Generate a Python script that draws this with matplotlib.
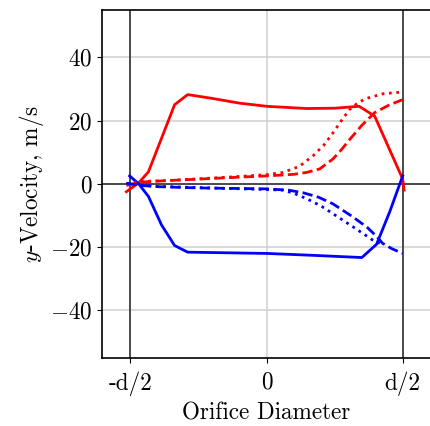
import matplotlib
matplotlib.use("Agg")
import matplotlib.pyplot as plt

plt.rcParams['font.family'] = 'serif'
plt.rcParams['font.serif'] = ['cmr10', 'DejaVu Serif']
plt.rcParams['mathtext.fontset'] = 'cm'
plt.rcParams['axes.formatter.use_mathtext'] = True
plt.rcParams['font.size'] = 16.7

# positions in units of orifice diameter d
x_red_solid = [-0.515, -0.47, -0.434, -0.338, -0.29, -0.2, -0.1, 0.0, 0.147, 0.25, 0.34, 0.397, 0.5, 0.505]
y_red_solid = [-2.5, 0.3, 3.8, 25.0, 28.2, 27.0, 25.5, 24.5, 23.8, 23.9, 24.5, 21.4, 1.5, -2.0]

x_blue_solid = [-0.503, -0.47, -0.434, -0.386, -0.338, -0.29, 0.0, 0.17, 0.35, 0.404, 0.452, 0.5]
y_blue_solid = [2.5, 0.0, -4.0, -13.0, -19.5, -21.6, -22.0, -22.6, -23.3, -19.1, -8.9, 2.5]

x_red_dot = [-0.515, -0.45, -0.37, -0.246, -0.125, 0.0, 0.06, 0.12, 0.17, 0.21, 0.243, 0.275, 0.305, 0.335, 0.367, 0.43, 0.5]
y_red_dot = [0.0, 0.8, 1.0, 1.6, 2.2, 2.9, 3.6, 5.5, 8.8, 12.2, 16.0, 20.0, 23.5, 25.6, 27.0, 28.5, 29.0]

x_red_dash = [-0.515, -0.45, -0.37, -0.246, -0.125, 0.0, 0.1, 0.147, 0.195, 0.243, 0.275, 0.305, 0.35, 0.397, 0.452, 0.5]
y_red_dash = [-0.5, 0.6, 1.0, 1.5, 2.0, 2.5, 3.0, 3.6, 4.7, 7.8, 10.8, 14.0, 18.5, 22.5, 25.0, 26.6]

x_blue_dot = [-0.515, -0.45, -0.4, -0.25, 0.0, 0.06, 0.1, 0.147, 0.2, 0.243, 0.316, 0.39, 0.42]
y_blue_dot = [0.0, -0.5, -0.8, -1.2, -1.8, -2.0, -3.0, -4.7, -7.0, -9.4, -13.5, -17.8, -19.0]

x_blue_dash = [-0.515, -0.45, -0.4, -0.25, 0.0, 0.08, 0.133, 0.19, 0.243, 0.316, 0.37, 0.404, 0.426, 0.46, 0.5]
y_blue_dash = [0.2, -0.6, -0.9, -1.3, -1.6, -2.0, -2.8, -4.2, -6.3, -10.4, -13.8, -16.6, -18.8, -20.5, -22.0]

fig, ax = plt.subplots(figsize=(4.3, 4.26), dpi=100)
ax.grid(True, color='#d3d3d3', linewidth=1.2)
ax.axhline(0, color='#333333', linewidth=1.2)
ax.axvline(-0.5, color='#333333', linewidth=1.2)
ax.axvline(0.5, color='#333333', linewidth=1.2)

ax.plot(x_red_solid, y_red_solid, color='red', lw=2)
ax.plot(x_blue_solid, y_blue_solid, color='blue', lw=2)
ax.plot(x_red_dot, y_red_dot, color='red', lw=2, ls=':')
ax.plot(x_blue_dot, y_blue_dot, color='blue', lw=2, ls=':')
ax.plot(x_red_dash, y_red_dash, color='red', lw=2, ls='--')
ax.plot(x_blue_dash, y_blue_dash, color='blue', lw=2, ls='--')

ax.set_xlim(-0.605, 0.605)
ax.set_ylim(-55, 55)
ax.set_xticks([-0.5, 0, 0.5])
ax.set_xticklabels(['-d/2', '0', 'd/2'])
ax.set_yticks([-40, -20, 0, 20, 40])
ax.tick_params(axis='x', pad=6)
ax.set_xlabel('Orifice Diameter', labelpad=5)
ax.set_ylabel('$y$-Velocity, m/s', labelpad=3)
ax.set_axisbelow(True)
for s in ax.spines.values():
    s.set_linewidth(1.2)

fig.subplots_adjust(left=0.237, right=1.003, top=0.977, bottom=0.16)
fig.savefig('out.png', dpi=100)
